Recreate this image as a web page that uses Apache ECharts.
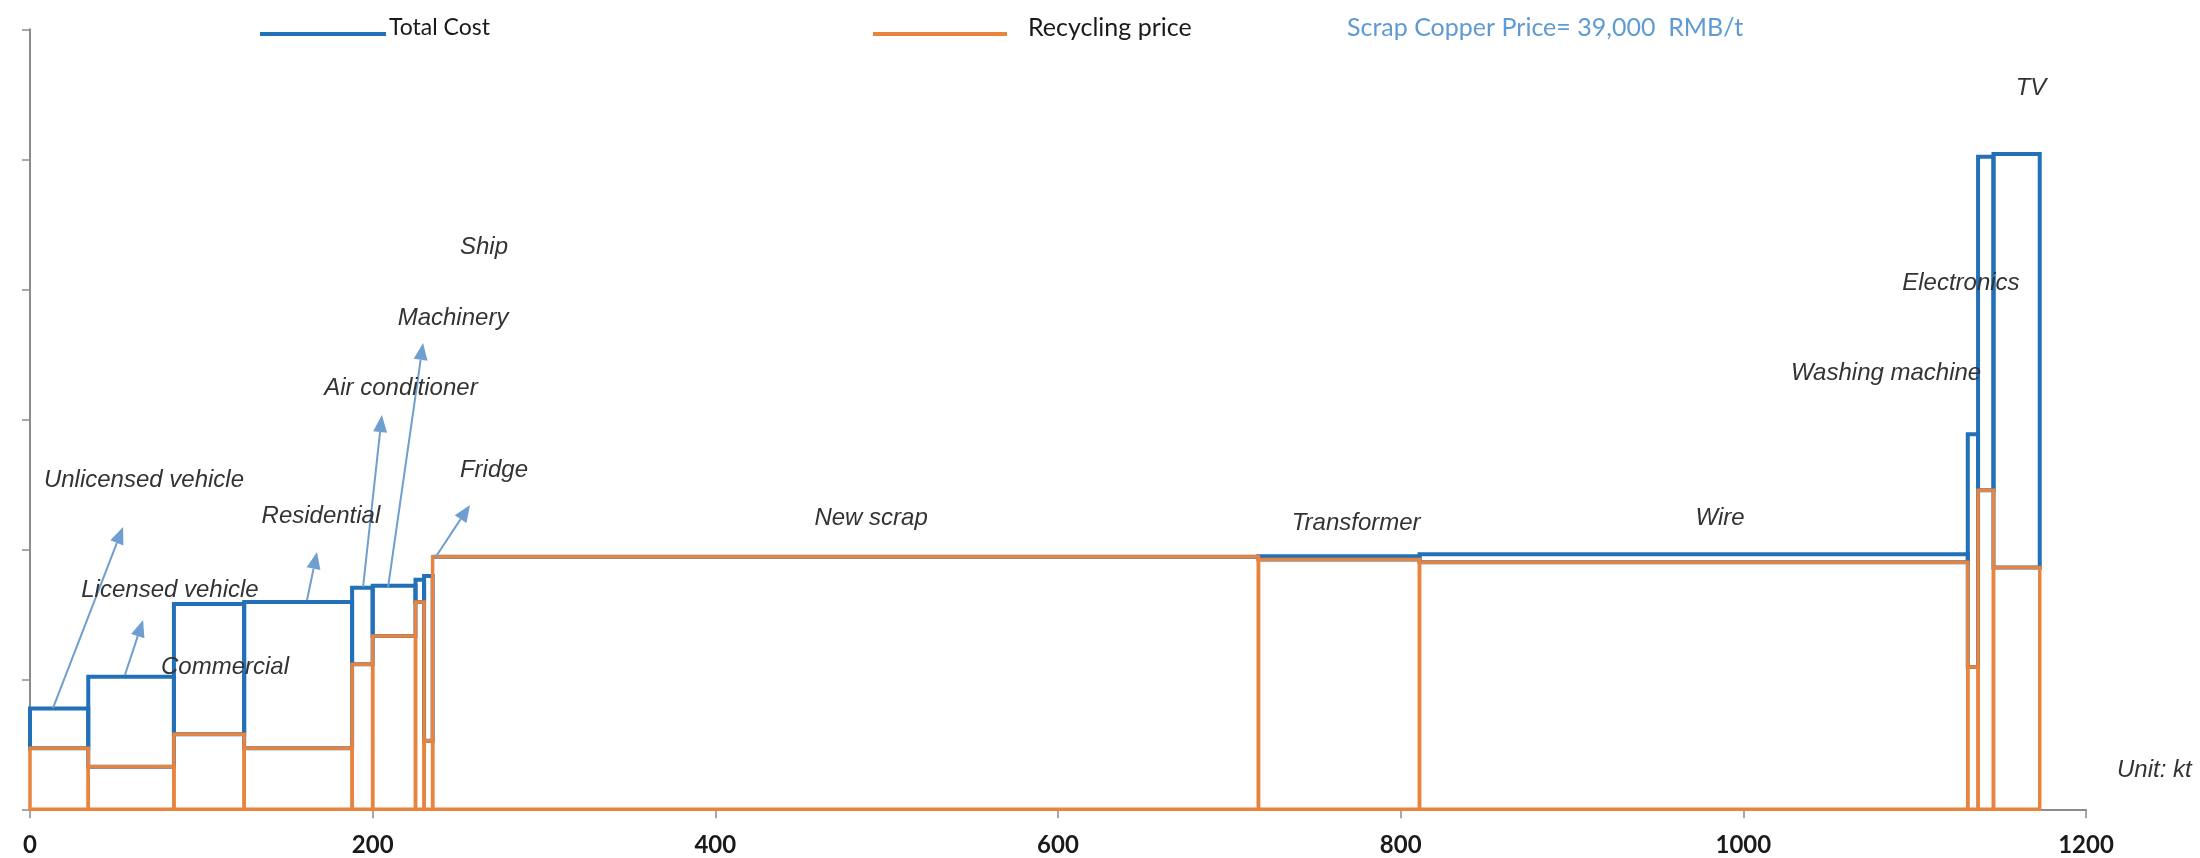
<!DOCTYPE html>
<html>
<head>
<meta charset="utf-8">
<script src="https://cdn.jsdelivr.net/npm/echarts@6/dist/echarts.min.js"></script>
<style>
html,body{margin:0;padding:0;background:#fff;}
#chart{width:2200px;height:858px;}
</style>
</head>
<body>
<div id="chart"></div>
<script>
// ---- data ----
const categories = ['Unlicensed vehicle','Licensed vehicle','Commercial','Residential','Air conditioner','Machinery','Ship','Fridge','New scrap','Transformer','Wire','Washing machine','Electronics','TV'];
// recycled amount of each source (kt)
const amounts = [34, 50, 41, 63, 12, 25, 5, 5, 482, 94, 320, 6, 9, 27];
// total cost (RMB/t)
const totalCost = [15500, 20400, 31600, 31900, 34100, 34400, 35300, 35900, 38850, 38950, 39250, 57700, 100400, 100800];
// recycling price (RMB/t)
const recyclingPrice = [9400, 6550, 11550, 9400, 22300, 26650, 31900, 10550, 38850, 38450, 38000, 21900, 49100, 37200];
const xTicks = [0, 200, 400, 600, 800, 1000, 1200];

// annotation anchors in data space [kt, RMB/t]
const labelAnchors = [
  [66.5, 50660],[81.7, 33740],[113.8, 21890],[169.8, 45120],[216.5, 64820],[246.9, 75580],
  [265, 86500],[270.8, 52200],[490.9, 44810],[774, 44040],[986.4, 44810],[1083.3, 67120],
  [1127, 80970],[1167.9, 110970]
];
// arrows: [fromKt, fromVal, toKt, toVal]
const arrows = [
  [13.4, 15580, 54.3, 43430],
  [55.4, 20660, 66.0, 29120],
  [161.7, 32200, 167.5, 39580],
  [194.4, 34200, 205.4, 60660],
  [209.0, 34200, 229.4, 71740],
  [236.4, 38660, 256.8, 46820]
];

const BLUE = '#2270b8';
const ORANGE = '#e8843e';
const ARROW = '#6f9fcf';

// build rectangles [start, end, low, high]
const blueRects = [], orangeRects = [];
let acc = 0;
amounts.forEach((a, i) => {
  const s = acc, e = acc + a;
  acc = e;
  blueRects.push([s, e, recyclingPrice[i], totalCost[i]]);
  orangeRects.push([s, e, 0, recyclingPrice[i]]);
});

function rectRenderer(color, width) {
  return function (params, api) {
    const p0 = api.coord([api.value(0), api.value(2)]);
    const p1 = api.coord([api.value(1), api.value(3)]);
    return {
      type: 'rect',
      shape: { x: p0[0], y: p1[1], width: p1[0] - p0[0], height: p0[1] - p1[1] },
      style: { fill: 'none', stroke: color, lineWidth: width, lineJoin: 'miter' }
    };
  };
}

const chart = echarts.init(document.getElementById('chart'), null, { renderer: 'canvas' });
const option = {
  animation: false,
  backgroundColor: '#fff',
  grid: { left: 30, right: 114, top: 29.3, bottom: 48.7 },
  xAxis: {
    type: 'value', min: xTicks[0], max: xTicks[xTicks.length - 1], interval: 200,
    axisLine: { show: true, lineStyle: { color: '#8c8c8c', width: 2 } },
    axisTick: { show: true, length: 9, lineStyle: { color: '#8c8c8c', width: 1.5 } },
    axisLabel: { margin: 24, fontSize: 24, fontWeight: 'bold', color: '#1a1a1a', fontFamily: 'Lato',
                 formatter: v => String(v) },
    splitLine: { show: false }
  },
  yAxis: {
    type: 'value', min: 0, max: 120000, interval: 20000,
    axisLine: { show: true, lineStyle: { color: '#8c8c8c', width: 2 } },
    axisTick: { show: true, length: 8, lineStyle: { color: '#8c8c8c', width: 1.5 } },
    axisLabel: { show: false },
    splitLine: { show: false }
  },
  series: [
    { type: 'custom', name: 'Total Cost', data: blueRects, encode: { x: [0, 1], y: [2, 3] },
      renderItem: rectRenderer(BLUE, 4), z: 2 },
    { type: 'custom', name: 'Recycling price', data: orangeRects, encode: { x: [0, 1], y: [2, 3] },
      renderItem: rectRenderer(ORANGE, 3.5), z: 3 },
    { type: 'custom', name: 'arrows', data: arrows, encode: { x: [0, 2], y: [1, 3] }, z: 4,
      renderItem: function (params, api) {
        const a = api.coord([api.value(0), api.value(1)]);
        const b = api.coord([api.value(2), api.value(3)]);
        const dx = b[0] - a[0], dy = b[1] - a[1];
        const len = Math.sqrt(dx * dx + dy * dy);
        const ux = dx / len, uy = dy / len;
        const hl = 17, hw = 7;
        const bx = b[0] - ux * hl, by = b[1] - uy * hl;
        return {
          type: 'group',
          children: [
            { type: 'line', shape: { x1: a[0], y1: a[1], x2: bx, y2: by },
              style: { stroke: ARROW, lineWidth: 2 } },
            { type: 'polygon', shape: { points: [[b[0], b[1]], [bx - uy * hw, by + ux * hw], [bx + uy * hw, by - ux * hw]] },
              style: { fill: ARROW } }
          ]
        };
      } },
    { type: 'custom', name: 'labels', data: labelAnchors.map((p, i) => [p[0], p[1], i]), encode: { x: 0, y: 1 }, z: 5,
      clip: false,
      renderItem: function (params, api) {
        const p = api.coord([api.value(0), api.value(1)]);
        return {
          type: 'text', x: p[0], y: p[1],
          style: { text: categories[api.value(2)], font: 'italic 24px "Liberation Sans"', fill: '#333',
                   align: 'center', verticalAlign: 'middle' }
        };
      } }
  ],
  graphic: [
    { type: 'line', shape: { x1: 260, y1: 34, x2: 386, y2: 34 }, style: { stroke: BLUE, lineWidth: 4 } },
    { type: 'text', x: 389, y: 28, style: { text: 'Total Cost', font: '23px Lato', fill: '#1a1a1a', verticalAlign: 'middle' } },
    { type: 'line', shape: { x1: 873, y1: 34, x2: 1007, y2: 34 }, style: { stroke: ORANGE, lineWidth: 4 } },
    { type: 'text', x: 1028, y: 28, style: { text: 'Recycling price', font: '25px Lato', fill: '#1a1a1a', verticalAlign: 'middle' } },
    { type: 'text', x: 1347, y: 28, style: { text: 'Scrap Copper Price= 39,000  RMB/t', font: '25px Lato', fill: '#5e9ad3', verticalAlign: 'middle' } },
    { type: 'text', x: 2117, y: 770, style: { text: 'Unit: kt', font: 'italic 24px "Liberation Sans"', fill: '#333', verticalAlign: 'middle' } }
  ]
};
chart.setOption(option);
</script>
</body>
</html>
